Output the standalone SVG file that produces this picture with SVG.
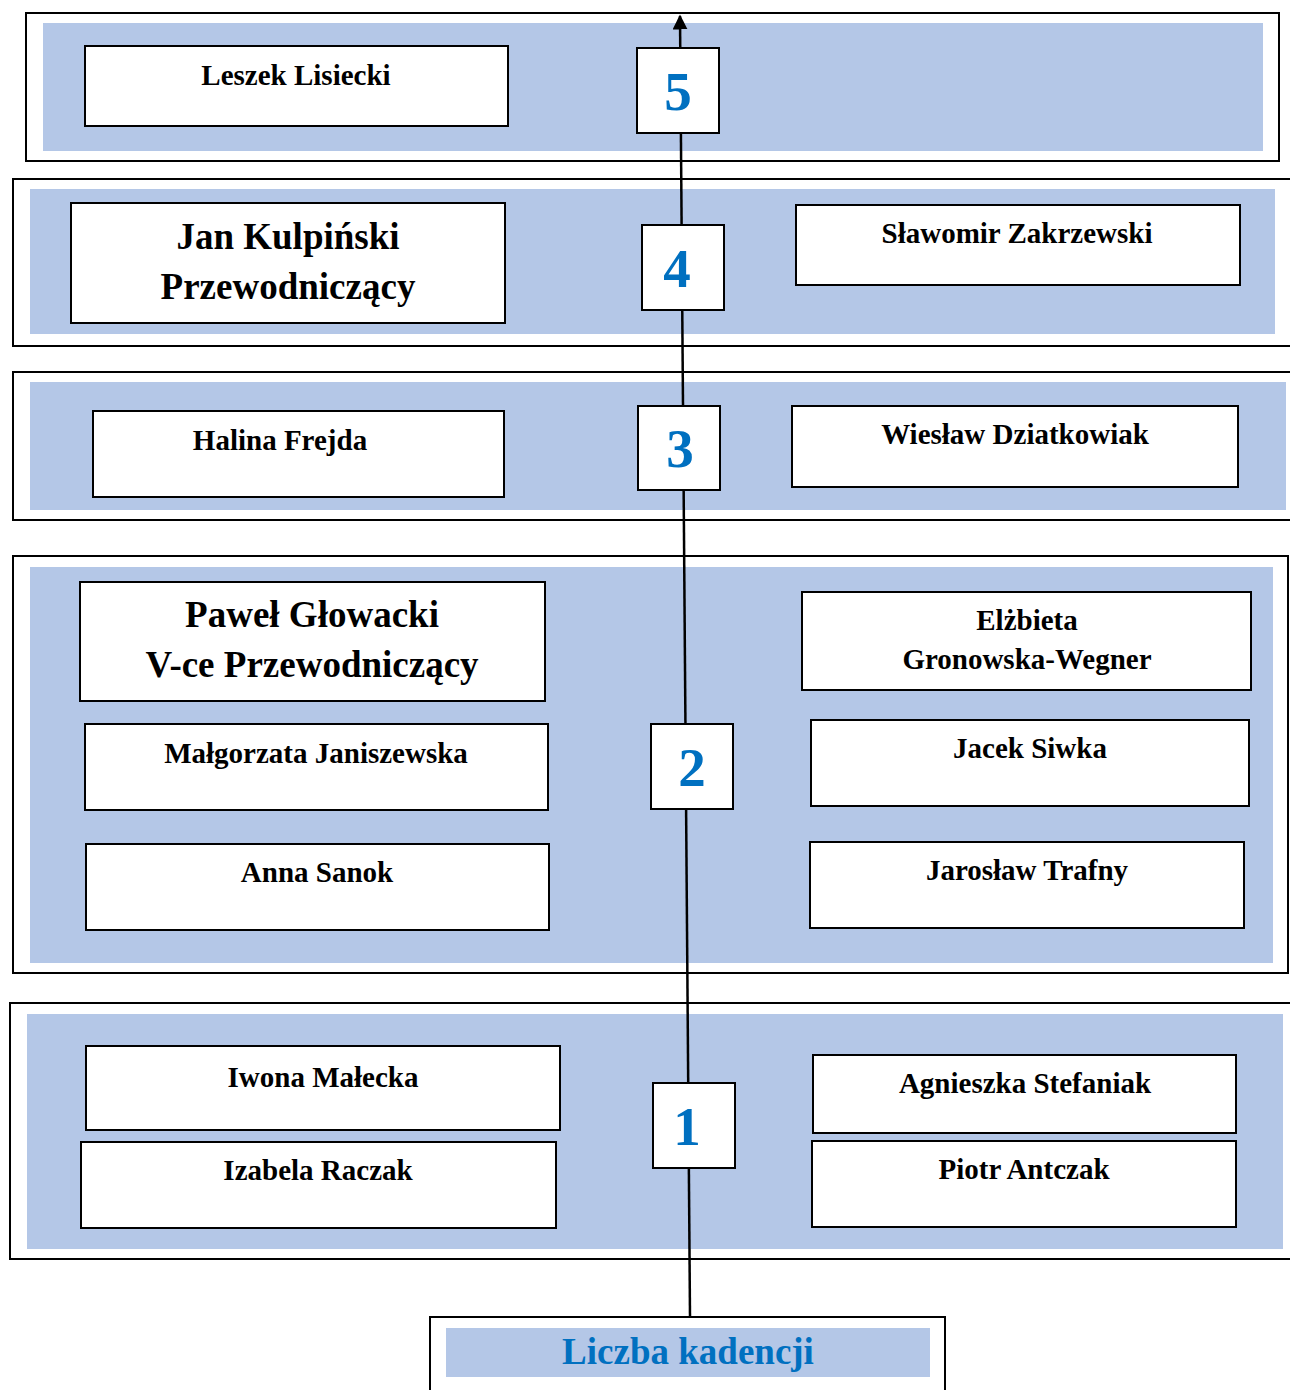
<svg xmlns="http://www.w3.org/2000/svg" width="1290" height="1390" viewBox="0 0 1290 1390">
<defs>
<style>
.band{fill:#fff;stroke:#000;stroke-width:2}
.inner{fill:#B4C7E7}
.box{fill:#fff;stroke:#000;stroke-width:2}
.t{font-family:"Liberation Serif",serif;font-weight:bold;font-size:29px;fill:#000;text-anchor:middle}
.tl{font-family:"Liberation Serif",serif;font-weight:bold;font-size:37px;fill:#000;text-anchor:middle}
.num{font-family:"Liberation Serif",serif;font-weight:bold;font-size:55px;fill:#0070C0;text-anchor:middle}
.conn{stroke:#000;stroke-width:2.5;fill:none}
</style>
<marker id="arr" viewBox="0 0 10 10" refX="9" refY="5" markerWidth="6" markerHeight="6" orient="auto" markerUnits="strokeWidth">
<path d="M0,0 L10,5 L0,10 z" fill="#000"/>
</marker>
</defs>
<rect width="1290" height="1390" fill="#fff"/>
<g id="bands">
<g id="band5"><rect class="band" x="26" y="13" width="1253" height="148"/><rect class="inner" x="43" y="23" width="1220" height="128"/></g>
<g id="band4"><rect class="band" x="13" y="179" width="1280" height="167"/><rect class="inner" x="30" y="189" width="1245" height="145"/></g>
<g id="band3"><rect class="band" x="13" y="372" width="1280" height="148"/><rect class="inner" x="30" y="382" width="1256" height="128"/></g>
<g id="band2"><rect class="band" x="13" y="556" width="1275" height="417"/><rect class="inner" x="30" y="567" width="1243" height="396"/></g>
<g id="band1"><rect class="band" x="10" y="1003" width="1283" height="256"/><rect class="inner" x="27" y="1014" width="1256" height="235"/></g>
</g>
<g id="connectors">
<line class="conn" x1="690" y1="1317" x2="680" y2="16" marker-end="url(#arr)"/>
</g>
<g id="num5"><rect class="box" x="637" y="48" width="82" height="85"/><text class="num" x="678" y="110">5</text></g>
<g id="num4"><rect class="box" x="642" y="225" width="82" height="85"/><text class="num" x="677" y="287">4</text></g>
<g id="num3"><rect class="box" x="638" y="406" width="82" height="84"/><text class="num" x="680" y="467">3</text></g>
<g id="num2"><rect class="box" x="651" y="724" width="82" height="85"/><text class="num" x="692" y="786">2</text></g>
<g id="num1"><rect class="box" x="653" y="1083" width="82" height="85"/><text class="num" x="687" y="1145">1</text></g>
<g id="lisiecki"><rect class="box" x="85" y="46" width="423" height="80"/><text class="t" x="296" y="85">Leszek Lisiecki</text></g>
<g id="kulpinski"><rect class="box" x="71" y="203" width="434" height="120"/><text class="tl" x="288" y="249">Jan Kulpiński</text><text class="tl" x="288" y="299">Przewodniczący</text></g>
<g id="zakrzewski"><rect class="box" x="796" y="205" width="444" height="80"/><text class="t" x="1017" y="243">Sławomir Zakrzewski</text></g>
<g id="frejda"><rect class="box" x="93" y="411" width="411" height="86"/><text class="t" x="280" y="450">Halina Frejda</text></g>
<g id="dziatkowiak"><rect class="box" x="792" y="406" width="446" height="81"/><text class="t" x="1015" y="444">Wiesław Dziatkowiak</text></g>
<g id="glowacki"><rect class="box" x="80" y="582" width="465" height="119"/><text class="tl" x="312" y="627">Paweł Głowacki</text><text class="tl" x="312" y="677">V-ce Przewodniczący</text></g>
<g id="gronowska"><rect class="box" x="802" y="592" width="449" height="98"/><text class="t" x="1027" y="630">Elżbieta</text><text class="t" x="1027" y="669">Gronowska-Wegner</text></g>
<g id="janiszewska"><rect class="box" x="85" y="724" width="463" height="86"/><text class="t" x="316" y="763">Małgorzata Janiszewska</text></g>
<g id="siwka"><rect class="box" x="811" y="720" width="438" height="86"/><text class="t" x="1030" y="758">Jacek Siwka</text></g>
<g id="sanok"><rect class="box" x="86" y="844" width="463" height="86"/><text class="t" x="317" y="882">Anna Sanok</text></g>
<g id="trafny"><rect class="box" x="810" y="842" width="434" height="86"/><text class="t" x="1027" y="880">Jarosław Trafny</text></g>
<g id="malecka"><rect class="box" x="86" y="1046" width="474" height="84"/><text class="t" x="323" y="1087">Iwona Małecka</text></g>
<g id="raczak"><rect class="box" x="81" y="1142" width="475" height="86"/><text class="t" x="318" y="1180">Izabela Raczak</text></g>
<g id="stefaniak"><rect class="box" x="813" y="1055" width="423" height="78"/><text class="t" x="1025" y="1093">Agnieszka Stefaniak</text></g>
<g id="antczak"><rect class="box" x="812" y="1141" width="424" height="86"/><text class="t" x="1024" y="1179">Piotr Antczak</text></g>
<g id="kadencji"><rect class="band" x="430" y="1317" width="515" height="80"/><rect class="inner" x="446" y="1328" width="484" height="49"/><text x="688" y="1364" style="font-family:'Liberation Serif',serif;font-weight:bold;font-size:37px;fill:#0070C0;text-anchor:middle">Liczba kadencji</text></g>
</svg>
